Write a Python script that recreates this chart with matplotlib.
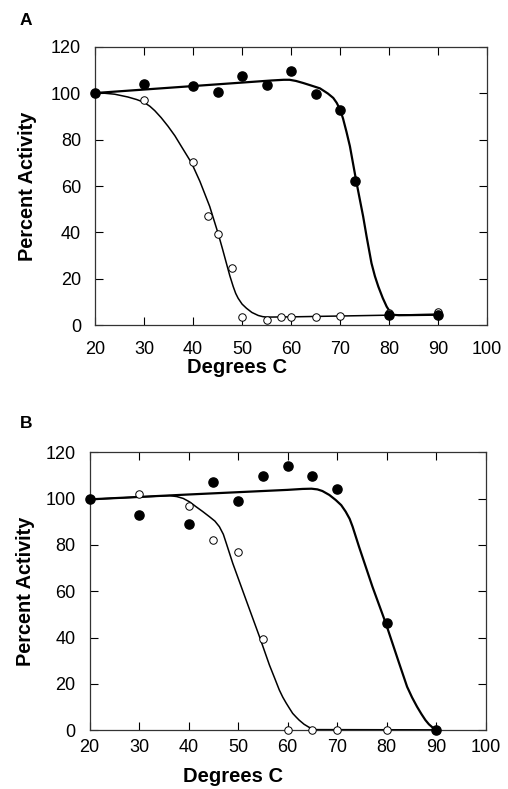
import matplotlib
matplotlib.use('Agg')
import matplotlib.pyplot as plt

plt.rcParams['font.family'] = ['Liberation Sans', 'DejaVu Sans']

# ---- panel A data
a_fill_x = [20, 30, 40, 45, 50, 55, 60, 65, 70, 73, 80, 90]
a_fill_y = [100, 104.1, 102.9, 100.3, 107.4, 103.4, 109.6, 99.5, 92.9, 62.0, 4.3, 4.5]
a_open_x = [20, 30, 40, 43, 45, 48, 50, 55, 58, 60, 65, 70, 80, 90]
a_open_y = [100, 96.9, 70.2, 47.3, 39.3, 24.6, 3.5, 2.4, 3.5, 3.5, 3.8, 4.0, 5.5, 6.0]

# fitted curves
a_fill_fit_x = [20, 30, 40, 50, 56, 58.5, 59.7, 61, 62.5, 64, 65.9, 67.5, 68.6, 69.3, 70,
                70.6, 71.3, 72.0, 73.3, 74.7, 75.4, 76.4, 77.1, 77.8, 78.7, 79.5, 80.2,
                80.8, 82, 90]
a_fill_fit_y = [100, 101.5, 103, 104.5, 105.4, 105.7, 105.7, 105.2, 104.3, 103.3, 102.0,
                99.8, 97.9, 95.8, 92.9, 89.0, 83.3, 77.1, 62.0, 46.9, 38.3, 26.8, 21.2,
                16.7, 11.8, 8.1, 5.8, 4.6, 4.4, 4.6]
a_open_fit_x = [20, 22, 24, 26.7, 28.5, 30, 31.2, 32.2, 33.5, 34.9, 36.3, 37.6, 39.7, 41.4,
                43.4, 45.1, 46.0, 46.8, 47.5, 48.2, 48.7, 49.2, 50.0, 50.9, 52.0, 53.3,
                54.2, 55.0, 60, 90]
a_open_fit_y = [100, 99.9, 99.5, 98.3, 97.2, 96.0, 94.3, 92.4, 89.4, 85.7, 81.6, 77.1, 69.9,
                62.0, 51.2, 39.7, 33.0, 26.8, 21.4, 16.7, 13.8, 11.7, 9.2, 7.4, 5.6, 4.3,
                3.8, 3.6, 3.7, 4.8]

# ---- panel B data
b_fill_x = [20, 30, 40, 45, 50, 55, 60, 65, 70, 80, 90]
b_fill_y = [100, 92.9, 89.0, 107.0, 99.0, 109.9, 113.9, 109.9, 104.0, 46.2, 0]
b_open_x = [20, 30, 40, 45, 50, 55, 60, 65, 70, 80]
b_open_y = [100, 102.1, 96.8, 82.0, 77.1, 39.3, 0, 0, 0, 0]

b_fill_fit_x = [20, 40, 60, 63, 64.8, 66.0, 67.0, 68.4, 69.7, 70.8, 71.7, 72.5, 73.1,
                74.4, 77.1, 79.8, 82.5, 84.1, 85.1, 86.1, 87.0, 87.8, 88.5, 89.2, 90]
b_fill_fit_y = [99.7, 101.8, 103.8, 104.2, 104.3, 104.0, 103.3, 101.6, 99.4, 97.2, 94.4,
                91.3, 87.9, 79.2, 62.0, 46.2, 28.9, 18.8, 14.2, 10.2, 7.0, 4.4, 2.6, 1.3, 0]
b_open_fit_x = [20, 35.0, 36.2, 37.6, 38.9, 40.2, 41.5, 42.8, 44.2, 45.3, 46.2, 47.0, 47.6,
                48.9, 51.6, 54.3, 56.3, 57.4, 58.3, 59.0, 59.7, 60.4, 61.0, 61.7, 62.3,
                63.3, 64.3, 65.7, 90]
b_open_fit_y = [99.7, 101.2, 101.3, 100.9, 100.1, 98.6, 96.5, 94.5, 92.2, 90.3, 87.9, 84.6,
                80.7, 72.1, 56.2, 40.4, 28.2, 22.3, 17.4, 14.3, 11.7, 9.3, 7.3, 5.7, 4.4,
                2.6, 1.3, 0.3, 0.2]

xticks = [20, 30, 40, 50, 60, 70, 80, 90, 100]
yticks = [0, 20, 40, 60, 80, 100, 120]


def panel(ax, letter, fx, fy, ox, oy, ffx, ffy, ofx, ofy, xpad, ylab_x, xlab_y, let_x, let_y):
    ax.plot(ofx, ofy, color='black', lw=1.1)
    ax.plot(ffx, ffy, color='black', lw=1.6)
    ax.plot(ox, oy, 'o', ms=5.4, mfc='white', mec='black', mew=0.7, clip_on=False, zorder=4)
    ax.plot(fx, fy, 'o', ms=6.6, mfc='black', mec='black', clip_on=False, zorder=5)

    ax.set_xlim(20, 100)
    ax.set_ylim(0, 120)
    ax.set_xticks(xticks)
    ax.set_yticks(yticks)
    ax.tick_params(direction='in', top=True, right=True, length=6, width=0.8,
                   labelsize=13)
    ax.tick_params(axis='x', pad=xpad)
    ax.tick_params(axis='y', pad=10)
    for s in ax.spines.values():
        s.set_linewidth(0.9)
        s.set_color('#333333')

    ax.set_xlabel('Degrees C', fontsize=14.5, fontweight='bold')
    ax.set_ylabel('Percent Activity', fontsize=14.3, fontweight='bold')
    ax.xaxis.set_label_coords(0.363, xlab_y)
    ax.yaxis.set_label_coords(ylab_x, 0.5)
    ax.text(let_x, let_y, letter, transform=ax.transAxes, fontsize=12.5,
            fontweight='bold', ha='left', va='center')


fig = plt.figure(figsize=(5.08, 7.89), dpi=100)
ax1 = fig.add_axes([0.187, 0.5875, 0.772, 0.3535])
ax2 = fig.add_axes([0.1764, 0.0744, 0.78, 0.3523])

panel(ax1, 'A', a_fill_x, a_fill_y, a_open_x, a_open_y,
      a_fill_fit_x, a_fill_fit_y, a_open_fit_x, a_open_fit_y, 11, -0.148, -0.115,
      -0.192, 1.095)
panel(ax2, 'B', b_fill_x, b_fill_y, b_open_x, b_open_y,
      b_fill_fit_x, b_fill_fit_y, b_open_fit_x, b_open_fit_y, 6, -0.139, -0.133,
      -0.176, 1.104)

fig.savefig('out.png', dpi=100)
